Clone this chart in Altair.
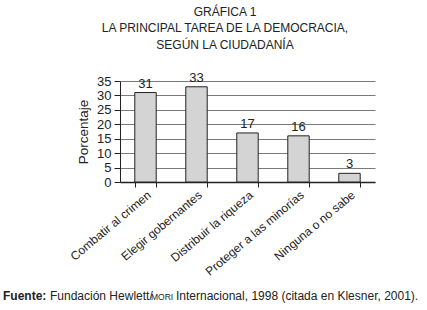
import altair as alt
import pandas as pd

categories = ["Combatir al crimen", "Elegir gobernantes", "Distribuir la riqueza",
              "Proteger a las minorías", "Ninguna o no sabe"]
values = [31, 33, 17, 16, 3]
y_ticks = [0, 5, 10, 15, 20, 25, 30, 35]

title_lines = ["GRÁFICA 1", "LA PRINCIPAL TAREA DE LA DEMOCRACIA,", "SEGÚN LA CIUDADANÍA"]
source_bold = "Fuente:"
source_parts = ["Fundación Hewlett/", "MORI", "Internacional, 1998 (citada en Klesner, 2001)."]

df = pd.DataFrame({"cat": categories, "val": values})
FONT = "Liberation Sans"

x_enc = alt.X("cat:N", sort=categories, title=None,
              scale=alt.Scale(paddingInner=0.58, paddingOuter=0.29),
              axis=alt.Axis(labelAngle=-40, labelAlign="right", labelBaseline="top",
                            labelFontSize=12, labelFont=FONT, labelColor="#222",
                            labelPadding=2, tickBand="extent", tickSize=5,
                            tickColor="#222", domainColor="#222", domainWidth=1.5))
y_enc = alt.Y("val:Q", title="Porcentaje",
              scale=alt.Scale(domain=[0, 35], nice=False),
              axis=alt.Axis(values=y_ticks, grid=True, gridColor="#7a7a7a",
                            labelOverlap=False, labelFlush=False,
                            tickSize=6, tickColor="#222", domainColor="#222",
                            labelFontSize=13, labelFont=FONT, labelColor="#222",
                            labelPadding=3, titleFontSize=13.5, titleFont=FONT,
                            titleFontWeight="normal", titleColor="#222",
                            titlePadding=6))

bars = alt.Chart(df).mark_bar(fill="#d4d4d4", stroke="#222", strokeWidth=1).encode(
    x=x_enc, y=y_enc)
labels = alt.Chart(df).mark_text(dy=-9, fontSize=13, font=FONT, color="#222").encode(
    x=x_enc, y=y_enc, text="val:Q")


def txt(t, x, y, size, weight="normal", align="left"):
    return alt.Chart(pd.DataFrame({"t": [t]})).mark_text(
        fontSize=size, font=FONT, fontWeight=weight, color="#222", align=align).encode(
        x=alt.value(x), y=alt.value(y), text="t:N")


t1 = txt(title_lines[0], 105, -69, 12, align="center")
t2 = txt(title_lines[1], 105, -53, 12, align="center")
t3 = txt(title_lines[2], 105, -36, 12, align="center")

f1 = txt(source_bold, -117, 215, 12, weight="bold")
f2 = txt(source_parts[0], -70, 215, 12)
f3 = txt(source_parts[1], 31, 216, 8.5)
f4 = txt(source_parts[2], 56, 215, 12)

chart = alt.layer(bars, labels, t1, t2, t3, f1, f2, f3, f4).properties(
    width=255, height=101,
    autosize=alt.AutoSizeParams(type="none"),
    padding={"left": 120, "top": 81, "right": 52, "bottom": 128},
    background="white",
).configure_view(stroke=None)

chart.save("out.html", embed_options={"renderer": "svg", "actions": False})
